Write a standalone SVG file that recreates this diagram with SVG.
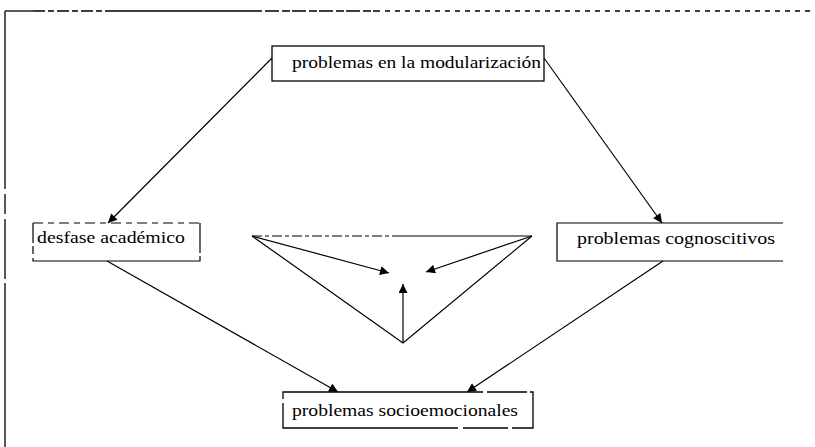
<svg xmlns="http://www.w3.org/2000/svg" width="815" height="447" viewBox="0 0 815 447">
  <style>
    .box { fill: #ffffff; stroke: #000000; stroke-width: 1.3; }
    .edge { fill: none; stroke: #000000; stroke-width: 1.2; }
    .lbl { font-family: "Liberation Serif", "Times New Roman", serif; font-size: 16px; fill: #000000; }
    .frame { fill: none; stroke: #000000; stroke-width: 1.3; }
  </style>
  <defs>
    <marker id="arrow" viewBox="0 0 10 10" refX="10" refY="5" markerWidth="10" markerHeight="9" markerUnits="userSpaceOnUse" orient="auto">
      <path d="M0,0 L10,5 L0,10 z" fill="#000000"/>
    </marker>
  </defs>
  <rect width="815" height="447" fill="#ffffff"/>

  <!-- outer frame -->
  <g id="frame">
    <path class="frame" d="M5,11 H33"/>
    <path class="frame" d="M33,11 H113" stroke-dasharray="12 3 6 3"/>
    <path class="frame" d="M113,11 H262"/>
    <path class="frame" d="M265,11 H375" stroke-dasharray="14 3 8 2"/>
    <path class="frame" d="M375,11 H815" stroke-dasharray="5 5"/>
    <path class="frame" d="M5,11 V447" stroke-dasharray="178 5 20 5 60 4 300"/>
  </g>

  <!-- connectors -->
  <g id="connectors">
    <line class="edge" x1="272" y1="58" x2="108" y2="223" marker-end="url(#arrow)"/>
    <line class="edge" x1="544" y1="58" x2="662" y2="223" marker-end="url(#arrow)"/>
    <line class="edge" x1="107" y1="261" x2="338" y2="392" marker-end="url(#arrow)"/>
    <line class="edge" x1="663" y1="261" x2="467" y2="392" marker-end="url(#arrow)"/>
    <!-- central triangle -->
    <path class="edge" d="M252,236 L403,343 L532,236"/>
    <path class="edge" d="M252,236 H400" stroke-dasharray="10 3 4 3"/>
    <path class="edge" d="M400,236 H532"/>
    <line class="edge" x1="252" y1="236" x2="389" y2="273" marker-end="url(#arrow)"/>
    <line class="edge" x1="532" y1="236" x2="426" y2="272" marker-end="url(#arrow)"/>
    <line class="edge" x1="403" y1="343" x2="403" y2="284" marker-end="url(#arrow)"/>
  </g>

  <!-- nodes -->
  <g id="node-modularizacion">
    <rect class="box" x="272" y="46" width="272" height="35"/>
    <text class="lbl" x="292" y="68" textLength="249" lengthAdjust="spacingAndGlyphs">problemas en la modularización</text>
  </g>

  <g id="node-desfase">
    <path class="edge" d="M33,223 H200" stroke-dasharray="10 5 6 5"/>
    <path class="edge" d="M200,223 V261 H33 V223" stroke-dasharray="30 3 175 4 8 3"/>
    <text class="lbl" x="37" y="243" textLength="148" lengthAdjust="spacingAndGlyphs">desfase académico</text>
  </g>

  <g id="node-cognoscitivos">
    <path class="edge" d="M783,223 H557 V261 H783"/>
    <text class="lbl" x="577" y="244" textLength="198" lengthAdjust="spacingAndGlyphs">problemas cognoscitivos</text>
  </g>

  <g id="node-socioemocionales">
    <rect class="box" x="283" y="392" width="250" height="36" stroke-dasharray="200 4 40 3 60 4 45 5"/>
    <text class="lbl" x="292" y="416" textLength="226" lengthAdjust="spacingAndGlyphs">problemas socioemocionales</text>
  </g>
</svg>
